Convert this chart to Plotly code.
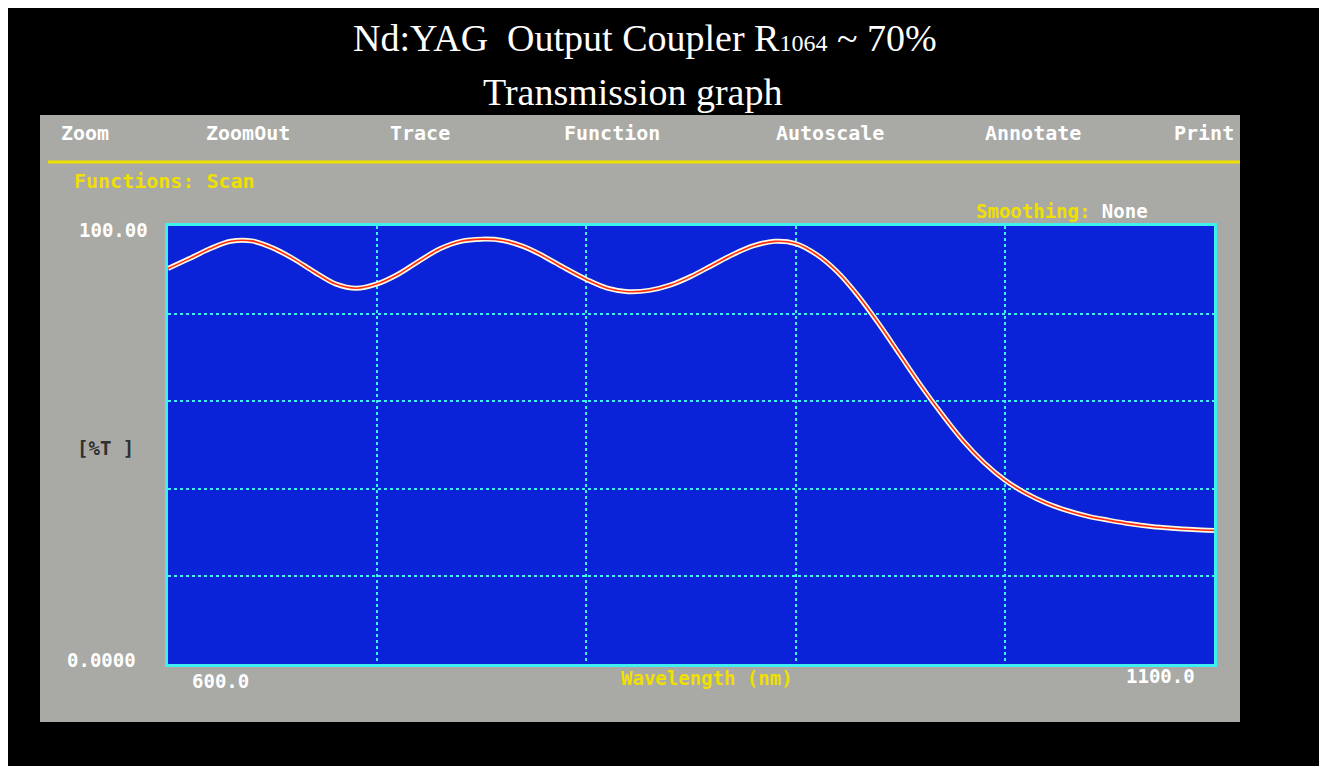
import plotly.graph_objects as go

wavelength = list(range(600, 1101, 10))
transmission = [90.3, 92.5, 94.8, 96.5, 96.6, 95.0, 92.5, 89.5, 86.8, 85.8,
                86.8, 89.0, 92.0, 94.8, 96.5, 97.0, 96.7, 95.3, 93.0, 90.3,
                87.8, 85.8, 85.0, 85.3, 86.5, 88.5, 91.0, 93.5, 95.5, 96.5,
                96.0, 93.5, 89.5, 84.0, 77.5, 70.5, 63.5, 57.0, 51.0, 46.0,
                42.0, 39.0, 36.7, 35.0, 33.7, 32.8, 32.0, 31.4, 31.0, 30.7, 30.5]
menu_items = ["Zoom", "ZoomOut", "Trace", "Function", "Autoscale", "Annotate", "Print"]
menu_x = [85, 248, 420, 612, 830, 1033, 1204]

# page body has an 8px margin, so draw a slightly smaller figure
W, H = 1311, 758
px = lambda x: (x - 8) / W
py = lambda y: 1 - (y - 8) / H
mono = "DejaVu Sans Mono"

fig = go.Figure()
fig.add_trace(go.Scatter(x=wavelength, y=transmission, mode="lines",
                         line=dict(color="#fffbe0", width=5, shape="spline"), hoverinfo="skip"))
fig.add_trace(go.Scatter(x=wavelength, y=transmission, mode="lines",
                         line=dict(color="#ff2a10", width=1.6, shape="spline")))

# gray instrument panel, blue screen, yellow rule
fig.add_shape(type="rect", xref="paper", yref="paper", x0=px(40), x1=px(1240), y0=py(722), y1=py(115),
              fillcolor="#a9a9a5", line=dict(width=0), layer="below")
fig.add_shape(type="rect", xref="x domain", yref="y domain", x0=0, x1=1, y0=0, y1=1,
              fillcolor="#0a22d8", line=dict(width=0), layer="below")
fig.add_shape(type="line", xref="paper", yref="paper", x0=px(48), x1=px(1240), y0=py(162), y1=py(162),
              line=dict(color="#f0e000", width=3))

ann = []
for t, x in zip(menu_items, menu_x):
    ann.append(dict(text="<b>" + t + "</b>", x=px(x), y=py(133), font=dict(color="white", size=20, family=mono)))
ann += [
    dict(text="Nd:YAG  Output Coupler R<span style='font-size:24px'>1064</span> ~ 70%", x=px(645), y=py(38),
         font=dict(color="white", size=38, family="Liberation Serif")),
    dict(text="Transmission graph", x=px(632), y=py(92), font=dict(color="white", size=38, family="Liberation Serif")),
    dict(text="<b>Functions: Scan</b>", x=px(72), y=py(181), xanchor="left",
         font=dict(color="#f0e000", size=20, family=mono)),
    dict(text="<b><span style='color:#f0e000'>Smoothing:</span> None</b>", x=px(1150), y=py(211), xanchor="right",
         font=dict(color="white", size=19, family=mono)),
    dict(text="<b>100.00</b>", x=px(150), y=py(230), xanchor="right", font=dict(color="white", size=19, family=mono)),
    dict(text="<b>0.0000</b>", x=px(138), y=py(660), xanchor="right", font=dict(color="white", size=19, family=mono)),
    dict(text="<b>[%T ]</b>", x=px(105), y=py(448), font=dict(color="#303030", size=19, family=mono)),
    dict(text="<b>600.0</b>", x=px(220), y=py(681), font=dict(color="white", size=19, family=mono)),
    dict(text="<b>1100.0</b>", x=px(1160), y=py(676), font=dict(color="white", size=19, family=mono)),
    dict(text="<b>Wavelength (nm)</b>", x=px(707), y=py(678), font=dict(color="#f0e000", size=19, family=mono)),
]
for a in ann:
    a.setdefault("xanchor", "center")
    a.update(xref="paper", yref="paper", showarrow=False, yanchor="middle")

fig.update_layout(
    width=W, height=H, margin=dict(l=0, r=0, t=0, b=0),
    paper_bgcolor="black", plot_bgcolor="#0a22d8", showlegend=False,
    annotations=ann,
    xaxis=dict(domain=[px(168), px(1214)], range=[600, 1100], dtick=100, showticklabels=False,
               showgrid=True, gridcolor="#40f0f0", griddash="dot", gridwidth=2, zeroline=False,
               showline=True, mirror=True, linecolor="#40f0f0", linewidth=3, layer="above traces"),
    yaxis=dict(domain=[py(664), py(226)], range=[0, 100], dtick=20, showticklabels=False,
               showgrid=True, gridcolor="#40f0f0", griddash="dot", gridwidth=2, zeroline=False,
               showline=True, mirror=True, linecolor="#40f0f0", linewidth=3),
)
fig.write_html("out.html")
